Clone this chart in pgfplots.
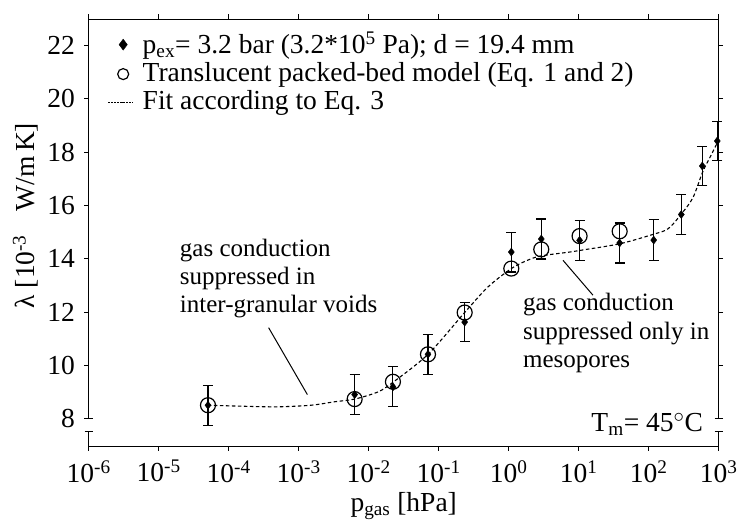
\documentclass[border=0pt]{standalone}
\usepackage{fontspec}
\setmainfont{Liberation Serif}
\usepackage{pgfplots}
\usepackage{pgfplotstable}
\pgfplotsset{compat=1.18}

\pgfplotstableread{
x        y      ey
5.06e-5  8.50   0.75
6.3e-3   8.90   0.75
0.0222   9.19   0.75
0.0703   10.41  0.75
0.235    11.62  0.74
1.09     14.25  0.75
2.92     14.74  0.75
10.3     14.69  0.75
38.5     14.59  0.75
118      14.70  0.76
292      15.66  0.75
583      17.48  0.73
955      18.42  0.74
}\measured

\pgfplotstableread{
x        y
5.06e-5  8.50
6.3e-3   8.73
0.0222   9.38
0.0703   10.41
0.235    11.98
1.09     13.63
2.92     14.35
10.3     14.85
38.5     15.03
}\model

\pgfplotstableread{
x        y
5.06e-5  8.50
1.69e-4  8.46
5.06e-4  8.44
1.51e-3  8.50
3.27e-3  8.63
6.31e-3  8.73
1.36e-2  9.00
2.22e-2  9.36
7.03e-2  10.41
0.235    11.98
0.506    12.94
1.09     13.63
1.78     13.92
2.83     14.10
7.41     14.25
10.3     14.31
38.5     14.56
117.5    14.92
190.5    15.13
295      15.69
430      16.30
589      17.25
783      17.90
1000     18.45
}\fit

\newcommand{\bigf}{\fontsize{27.5}{31}\selectfont}
\newcommand{\annf}{\fontsize{25}{28.4}\selectfont}

\begin{document}
\bigf
\begin{tikzpicture}
\path[use as bounding box] (-88.7pt,-77.5pt) rectangle (648.3pt,446.5pt);
\begin{axis}[
  at={(0pt,0pt)}, anchor=south west,
  scale only axis, width=630pt, height=427.5pt,
  xmode=log, xmin=1e-6, xmax=1e3,
  ymin=6.95, ymax=23,
  xtick={1e-6,1e-5,1e-4,1e-3,1e-2,1e-1,1e0,1e1,1e2,1e3},
  xticklabels={10\textsuperscript{-6},10\textsuperscript{-5},10\textsuperscript{-4},10\textsuperscript{-3},10\textsuperscript{-2},10\textsuperscript{-1},10\textsuperscript{0},10\textsuperscript{1},10\textsuperscript{2},10\textsuperscript{3}},
  ytick={8,10,12,14,16,18,20,22},
  yticklabels={8,10,12,14,16,18,20,22},
  xminorticks=false, yminorticks=false,
  tick align=outside, major tick length=4.5pt,
  axis line style={line width=0.9pt},
  tick style={line width=0.9pt, black},
  ticklabel style={font=\bigf},
  label style={font=\bigf},
  clip=false,
  xlabel={p\textsubscript{gas} [hPa]},
  ylabel={λ [10\textsuperscript{-3}\hspace{0.6em} W/m\,K]},
  xlabel style={at={(axis description cs:0.5,-0.139)}, anchor=center},
  ylabel style={at={(axis description cs:-0.1,0.54)}, anchor=center, rotate=0},
  legend style={draw=none, fill=none, font=\bigf, at={(axis description cs:0.025,0.98)}, anchor=north west, row sep=1pt, column sep=7pt},
  legend cell align=left,
  legend image code/.code={\draw[mark repeat=2,mark phase=2,#1] plot coordinates {(0pt,0pt) (15pt,0pt) (25pt,0pt)};},
]
\addplot[only marks, mark=diamond*, mark size=4pt, black,
  legend image post style={mark size=5.5pt},
  error bars/.cd, y dir=both, y explicit,
  error bar style={line width=1.1pt},
  error mark options={rotate=90, mark size=5pt, line width=1.1pt}]
  table[x=x, y=y, y error=ey]{\measured};
\addlegendentry{p\textsubscript{ex}= 3.2 bar (3.2*10\textsuperscript{5} Pa); d = 19.4 mm}
\addplot[only marks, mark=o, mark size=7.5pt, black, mark options={line width=1.2pt},
  legend image post style={mark size=5.5pt}]
  table[x=x, y=y]{\model};
\addlegendentry{Translucent packed-bed model (Eq. 1 and 2)}
\addplot[black, smooth, line width=1.1pt, dash pattern=on 3.5pt off 2.5pt,
  legend image post style={dash pattern=on 1.5pt off 1.5pt}]
  table[x=x, y=y]{\fit};
\addlegendentry{Fit according to Eq. 3}

% annotations
\node[anchor=base west, font=\annf, inner sep=0pt] at (axis cs:2.0e-5,14.10) {gas conduction};
\node[anchor=base west, font=\annf, inner sep=0pt] at (axis cs:2.0e-5,13.04) {suppressed in};
\node[anchor=base west, font=\annf, inner sep=0pt] at (axis cs:2.0e-5,11.97) {inter-granular voids};
\draw[line width=1pt] (axis cs:3.72e-4,11.41) -- (axis cs:1.33e-3,8.90);
\node[anchor=base west, font=\annf, inner sep=0pt] at (axis cs:1.6,12.04) {gas conduction};
\node[anchor=base west, font=\annf, inner sep=0pt] at (axis cs:1.6,10.97) {suppressed only in};
\node[anchor=base west, font=\annf, inner sep=0pt] at (axis cs:1.6,9.91) {mesopores};
\draw[line width=1pt] (axis cs:5.97,13.94) -- (axis cs:16.0,12.63);
\node[anchor=base east, font=\bigf, inner sep=0pt] at (axis cs:598,7.50) {T\textsubscript{m}= 45$^{\circ}$C};

% axis breaks
\fill[white] ([xshift=-3pt]axis cs:1e-6,7.53) rectangle ([xshift=3pt]axis cs:1e-6,7.985);
\fill[white] ([xshift=-3pt]axis cs:1e3,7.53) rectangle ([xshift=3pt]axis cs:1e3,7.985);
\draw[line width=0.9pt] ([xshift=-4pt]axis cs:1e-6,8) -- ([xshift=4pt]axis cs:1e-6,8);
\draw[line width=0.9pt] ([xshift=-4pt]axis cs:1e-6,7.52) -- ([xshift=4pt]axis cs:1e-6,7.52);
\draw[line width=0.9pt] ([xshift=-4pt]axis cs:1e3,8) -- ([xshift=4pt]axis cs:1e3,8);
\draw[line width=0.9pt] ([xshift=-4pt]axis cs:1e3,7.52) -- ([xshift=4pt]axis cs:1e3,7.52);
\end{axis}
\end{tikzpicture}
\end{document}
